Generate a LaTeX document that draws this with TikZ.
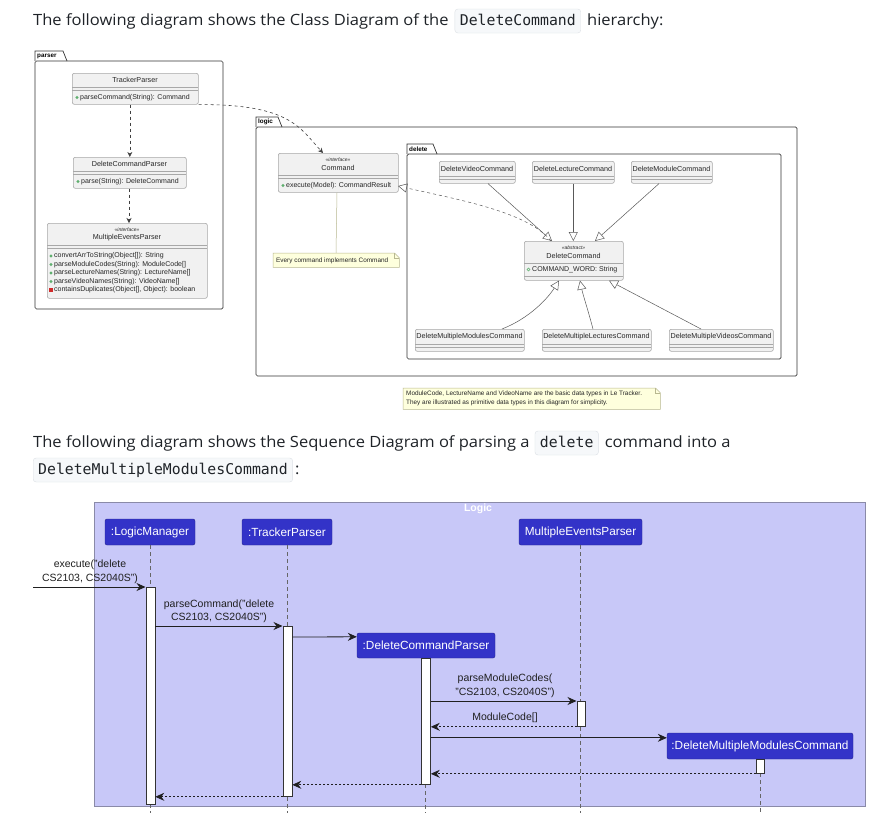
\documentclass[tikz,border=0pt]{standalone}
\usepackage{fontspec}
\setmainfont[FakeStretch=1.065]{Open Sans}
\setsansfont{Liberation Sans}
\setmonofont{DejaVu Sans Mono}
\usetikzlibrary{arrows.meta,calc}
\definecolor{clsfill}{HTML}{F1F1F1}
\definecolor{clsdraw}{HTML}{A8A8A8}
\definecolor{pkgdraw}{HTML}{333333}
\definecolor{notefill}{HTML}{FEFFDD}
\definecolor{notedraw}{HTML}{B8B890}
\definecolor{partfill}{HTML}{3333C8}
\definecolor{framefill}{HTML}{C8C8F8}
\definecolor{framedraw}{HTML}{8A8AA8}
\definecolor{codefill}{HTML}{F6F8FA}
\definecolor{codedraw}{HTML}{DDE1E6}
\definecolor{pubgreen}{HTML}{5FAF6F}
\definecolor{privred}{HTML}{D02A2A}
\definecolor{msgcol}{HTML}{202020}
\definecolor{txtcol}{HTML}{1F2328}
\tikzset{
  hdr/.style={font=\fontsize{15.5}{19}\selectfont, text=txtcol, inner sep=0pt},
  codebox/.style={font=\fontsize{14.8}{17}\ttfamily, fill=codefill, draw=codedraw, rounded corners=3pt,
    inner xsep=5pt, inner ysep=0pt, text height=11pt, text depth=3pt, minimum height=24pt, text=txtcol},
  cls/.style={draw=clsdraw, fill=clsfill, rounded corners=2pt, line width=0.6pt, inner sep=0pt, anchor=north west},
  clsname/.style={font=\sffamily\fontsize{7.2}{8}\selectfont, inner sep=0pt, text=black!85},
  stereo/.style={font=\sffamily\itshape\fontsize{5}{6}\selectfont, inner sep=0pt, text=black!85},
  member/.style={font=\sffamily\fontsize{7}{8}\selectfont, inner sep=0pt, anchor=west, text=black!85},
  sepline/.style={draw=clsdraw, line width=0.5pt},
  pkg/.style={draw=pkgdraw, line width=0.7pt},
  pkgtab/.style={font=\sffamily\bfseries\fontsize{6.3}{7}\selectfont, inner sep=0pt, anchor=west},
  notebox/.style={inner sep=0pt, anchor=north west},
  notetext/.style={font=\sffamily\fontsize{6.4}{9}\selectfont, inner sep=0pt, anchor=west, align=left, text=black!85},
  notepath/.style={fill=notefill, draw=notedraw, line width=0.5pt},
  dep/.style={dash pattern=on 3pt off 3pt, draw=black!75, line width=0.6pt, -{Stealth[length=5pt,width=5pt,inset=1.5pt]}},
  realize/.style={dash pattern=on 3pt off 3pt, draw=black!65, line width=0.5pt, -{Triangle[open,length=9pt,width=9pt]}},
  inherit/.style={draw=black!65, line width=0.5pt, -{Triangle[open,length=9pt,width=9pt]}},
  part/.style={fill=partfill, draw=partfill!70!black, rounded corners=2pt, text=white,
    font=\sffamily\fontsize{11.8}{14}\selectfont, inner sep=0pt, minimum height=26pt},
  life/.style={draw=black!60, dash pattern=on 4pt off 3pt, line width=0.5pt},
  act/.style={fill=white, draw=black!80, line width=0.8pt, inner sep=0pt, anchor=north west},
  msg/.style={draw=msgcol, line width=0.8pt, -{Stealth[length=9pt,width=8pt,inset=3pt]}},
  ret/.style={msg, dash pattern=on 2pt off 2pt},
  msglbl/.style={font=\sffamily\fontsize{10.5}{13.5}\selectfont, align=center, inner sep=0pt, text=msgcol},
}
\begin{document}
\begin{tikzpicture}[x=1pt,y=-1pt]
\useasboundingbox[fill=white] (0,0) rectangle (881,830);

% ---------- header 1 ----------
\node[hdr, anchor=base west] (h1a) at (33,25) {The following diagram shows the Class Diagram of the};
\node[codebox, anchor=base west] (h1c) at ($(h1a.base east)+(6,0)$) {DeleteCommand};
\node[hdr, anchor=base west] (h1b) at ($(h1c.base east)+(6,0)$) {hierarchy:};

% ---------- packages ----------
\draw[pkg, rounded corners=1.5pt] (35,61) rectangle (223,309);
\draw[pkg] (35,61) -- (35,51) -- (63,51) -- (67,61);
\node[pkgtab] (tabparser) at (37,56) {parser};

\draw[pkg, rounded corners=1.5pt] (256,127) rectangle (797,376);
\draw[pkg] (256,127) -- (256,117) -- (278,117) -- (282,127);
\node[pkgtab] (tablogic) at (258,122) {logic};

\draw[pkg, rounded corners=1.5pt] (407,154) rectangle (781,359);
\draw[pkg] (407,154) -- (407,144) -- (433,144) -- (437,154);
\node[pkgtab] (tabdelete) at (409,149) {delete};

% ---------- parser classes ----------
\node[cls, minimum width=126pt, minimum height=31pt] (tp) at (72,73) {};
\node[clsname] (tpn) at (135,80) {TrackerParser};
\draw[sepline] (72,87) -- (198,87) (72,90) -- (198,90);
\fill[pubgreen] (77,97.5) circle (1.6);
\node[member] (tpm) at (80,97.5) {parseCommand(String): Command};

\node[cls, minimum width=113pt, minimum height=31pt] (dcp) at (73,157) {};
\node[clsname] (dcpn) at (129.5,164) {DeleteCommandParser};
\draw[sepline] (73,171) -- (186,171) (73,174) -- (186,174);
\fill[pubgreen] (78,181.5) circle (1.6);
\node[member] (dcpm) at (81,181.5) {parse(String): DeleteCommand};

\node[cls, minimum width=160pt, minimum height=75pt] (mep) at (47,223) {};
\node[stereo] (meps) at (127,230) {«interface»};
\node[clsname] (mepn) at (127,238) {MultipleEventsParser};
\draw[sepline] (47,245) -- (207,245) (47,248) -- (207,248);
\fill[pubgreen] (51,256) circle (1.6);
\node[member] (mep1) at (54,256) {convertArrToString(Object[]): String};
\fill[pubgreen] (51,264.5) circle (1.6);
\node[member] (mep2) at (54,264.5) {parseModuleCodes(String): ModuleCode[]};
\fill[pubgreen] (51,273) circle (1.6);
\node[member] (mep3) at (54,273) {parseLectureNames(String): LectureName[]};
\fill[pubgreen] (51,281.5) circle (1.6);
\node[member] (mep4) at (54,281.5) {parseVideoNames(String): VideoName[]};
\fill[privred] (49.4,288.4) rectangle (52.6,291.6);
\node[member] (mep5) at (54,290) {containsDuplicates(Object[], Object): boolean};

% ---------- logic classes ----------
\node[cls, minimum width=120pt, minimum height=39pt] (cmd) at (278,153) {};
\node[stereo] (cmds) at (338,160) {«interface»};
\node[clsname] (cmdn) at (338,168) {Command};
\draw[sepline] (278,175) -- (398,175) (278,178) -- (398,178);
\fill[pubgreen] (283,185.5) circle (1.6);
\node[member] (cmdm) at (286,185.5) {execute(Model): CommandResult};

% note 1
\node[notebox, minimum width=126pt, minimum height=14pt] (n1) at (273,253) {};
\draw[notedraw, line width=0.5pt] (cmd.south -| 337,0) -- (n1.north -| 336,0);
\path[notepath] (n1.north west) -- ($(n1.north east)+(-5,0)$) -- ($(n1.north east)+(0,5)$) -- (n1.south east) -- (n1.south west) -- cycle;
\draw[notedraw, line width=0.5pt] ($(n1.north east)+(-5,0)$) -- ($(n1.north east)+(-5,5)$) -- ($(n1.north east)+(0,5)$);
\node[notetext] (n1t) at (276,260.5) {Every command implements Command};

% delete package classes
\node[cls, minimum width=76pt, minimum height=22pt] (dvc) at (439,161) {};
\node[clsname] (dvcn) at (477,168.5) {DeleteVideoCommand};
\draw[sepline] (439,176) -- (515,176) (439,179) -- (515,179);

\node[cls, minimum width=82pt, minimum height=22pt] (dlc) at (532,161) {};
\node[clsname] (dlcn) at (573,168.5) {DeleteLectureCommand};
\draw[sepline] (532,176) -- (614,176) (532,179) -- (614,179);

\node[cls, minimum width=81pt, minimum height=22pt] (dmc) at (631,161) {};
\node[clsname] (dmcn) at (671.5,168.5) {DeleteModuleCommand};
\draw[sepline] (631,176) -- (712,176) (631,179) -- (712,179);

\node[cls, minimum width=99pt, minimum height=39pt] (dc) at (524,241) {};
\node[stereo] (dcs) at (573.5,248) {«abstract»};
\node[clsname] (dcn) at (573.5,256) {DeleteCommand};
\draw[sepline] (524,263) -- (623,263) (524,276) -- (623,276);
\draw[pubgreen, line width=0.5pt] (528.5,269.5) circle (1.5);
\node[member] (dcm) at (532,269.5) {COMMAND\_WORD: String};

\node[cls, minimum width=109pt, minimum height=22pt] (dmmc) at (415,329) {};
\node[clsname] (dmmcn) at (469.5,336.5) {DeleteMultipleModulesCommand};
\draw[sepline] (415,344) -- (524,344) (415,347) -- (524,347);

\node[cls, minimum width=109pt, minimum height=22pt] (dmlc) at (542,329) {};
\node[clsname] (dmlcn) at (596.5,336.5) {DeleteMultipleLecturesCommand};
\draw[sepline] (542,344) -- (651,344) (542,347) -- (651,347);

\node[cls, minimum width=104pt, minimum height=22pt] (dmvc) at (669,329) {};
\node[clsname] (dmvcn) at (721,336.5) {DeleteMultipleVideosCommand};
\draw[sepline] (669,344) -- (773,344) (669,347) -- (773,347);

% note 2
\node[notebox, minimum width=257pt, minimum height=21pt] (n2) at (403,388) {};
\path[notepath] (n2.north west) -- ($(n2.north east)+(-5,0)$) -- ($(n2.north east)+(0,5)$) -- (n2.south east) -- (n2.south west) -- cycle;
\draw[notedraw, line width=0.5pt] ($(n2.north east)+(-5,0)$) -- ($(n2.north east)+(-5,5)$) -- ($(n2.north east)+(0,5)$);
\node[notetext] (n2t) at (406,398.5) {ModuleCode, LectureName and VideoName are the basic data types in Le Tracker.\\They are illustrated as primitive data types in this diagram for simplicity.};

% ---------- class connectors ----------
\draw[dep] (dcp.north |- tp.south) -- (dcp.north);
\draw[dep] (dcp.south -| 129,0) -- (mep.north -| 129,0);
\coordinate (cmdtop) at (323,153);
\draw[dep] (tp.south east) .. controls (290,104) and (300,128) .. (cmdtop);
\coordinate (dctop) at (551,241);
\coordinate (cmdright) at (398,186);
\draw[realize] (dctop) .. controls (528,212) and (460,200) .. (cmdright);
\draw[inherit] (dvc.south -| 488,0) -- (dc.north -| 552,0);
\draw[inherit] (dlc.south) -- (dlc.south |- dc.north);
\draw[inherit] (dmc.south -| 659,0) -- (dc.north -| 595,0);
\draw[inherit] (dmmc.north -| 502,0) .. controls (530,318) and (548,298) .. (dc.south -| 559,0);
\draw[inherit] (dmlc.north -| 593,0) .. controls (588,310) and (583,295) .. (dc.south -| 580,0);
\draw[inherit] (dmvc.north -| 701,0) -- (dc.south -| 609,0);

% ---------- header 2 ----------
\node[hdr, anchor=base west] (h2a) at (33,447) {The following diagram shows the Sequence Diagram of parsing a};
\node[codebox, anchor=base west] (h2c) at ($(h2a.base east)+(5,0)$) {delete};
\node[hdr, anchor=base west] (h2b) at ($(h2c.base east)+(6,0)$) {command into a};
\node[codebox, anchor=base west] (h2d) at (33,474) {DeleteMultipleModulesCommand};
\node[hdr, anchor=base west] (h2e) at ($(h2d.base east)+(2,0)$) {:};

% ---------- sequence diagram ----------
\fill[framefill] (94,502) rectangle (865,806);
\draw[framedraw, line width=0.8pt] (94,502) rectangle (865,806);
\node[font=\sffamily\bfseries\fontsize{10.5}{12}\selectfont, text=white, inner sep=0pt] (ftitle) at (478,509) {Logic};

\node[part, minimum width=90pt] (lm) at (150,532) {:LogicManager};
\node[part, minimum width=90pt] (tpp) at (287,532) {:TrackerParser};
\node[part, minimum width=123pt] (mepp) at (580.5,532) {MultipleEventsParser};
\node[part, minimum width=138pt, minimum height=25pt] (dcpp) at (426,645.5) {:DeleteCommandParser};
\node[part, minimum width=186pt] (dmmcp) at (760,746) {:DeleteMultipleModulesCommand};

\draw[life] (lm.south) -- (lm.south |- 0,813);
\draw[life] (tpp.south) -- (tpp.south |- 0,813);
\draw[life] (mepp.south) -- (mepp.south |- 0,813);
\draw[life] (dcpp.south -| 425,0) -- (425,813);
\draw[life] (dmmcp.south) -- (dmmcp.south |- 0,813);

\node[act, minimum width=9pt, minimum height=217pt] (lmA) at (145.5,587) {};
\node[act, minimum width=9pt, minimum height=170pt] (tpA) at (282.5,626) {};
\node[act, minimum width=9pt, minimum height=126pt] (dcpA) at (421,658) {};
\node[act, minimum width=8pt, minimum height=25pt] (mepA) at (576.5,701) {};
\node[act, minimum width=8pt, minimum height=14pt] (dmmcA) at (756,759) {};

% messages
\coordinate (ext) at (33,587);
\draw[msg] (ext) -- (lmA.north west);
\node[msglbl] (l1) at (90,572) {execute("delete\\CS2103, CS2040S")};

\draw[msg] (lmA.north east |- tpA.north) -- (tpA.north west);
\node[msglbl] (l2) at (219,611.5) {parseCommand("delete\\CS2103, CS2040S")};

\draw[msg] ($(tpA.north east)+(0,11)$) -- ($(dcpp.north west)+(0,4)$);

\draw[msg] (dcpA.east |- mepA.north) -- (mepA.north west);
\node[msglbl] (l4) at (505,686) {parseModuleCodes(\\"CS2103, CS2040S")};

\draw[ret] (mepA.south west) -- (mepA.south west -| dcpA.east);
\node[msglbl] (l5) at (505,717.5) {ModuleCode[]};

\coordinate (m6) at ($(dmmcp.north west)+(0,5)$);
\draw[msg] (dcpA.east |- m6) -- (m6);

\draw[ret] (dmmcA.south west) -- (dmmcA.south west -| dcpA.east);
\draw[ret] (dcpA.south west) -- (dcpA.south west -| tpA.east);
\draw[ret] (tpA.south west) -- (tpA.south west -| lmA.east);
\end{tikzpicture}
\end{document}
